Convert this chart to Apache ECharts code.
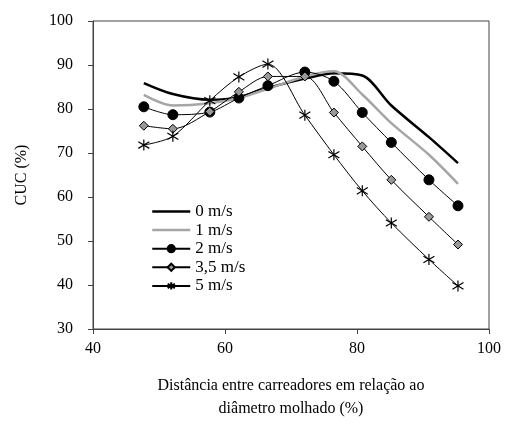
<!DOCTYPE html>
<html lang="pt">
<head>
    <meta charset="UTF-8">
    <title>CUC</title>
    <script src="https://cdn.jsdelivr.net/npm/echarts@6/dist/echarts.min.js"></script>
</head>
<body style="margin:0">
    <div id="main" style="width: 506px; height: 423px;"></div>
    <script>
        // distancia entre carreadores (% do diametro molhado)
        var xs = [47.7, 52.1, 57.7, 62.1, 66.5, 72.1, 76.5, 80.8, 85.2, 90.9, 95.3];
        var names = ['0 m/s', '1 m/s', '2 m/s', '3,5 m/s', '5 m/s'];
        var v0 = [85.9, 83.4, 82.1, 82.7, 84.8, 86.9, 88.1, 87.6, 80.8, 73.6, 67.7];
        var v1 = [83.2, 80.8, 81.3, 82.5, 84.6, 87.4, 88.6, 83.3, 76.8, 69.6, 63.0];
        var v2 = [80.5, 78.7, 79.3, 82.5, 85.3, 88.4, 86.3, 79.2, 72.4, 63.9, 58.0];
        var v35 = [76.2, 75.5, 79.4, 83.9, 87.4, 87.4, 79.2, 71.5, 63.9, 55.5, 49.2];
        var v5 = [71.8, 73.8, 81.9, 87.3, 90.2, 78.6, 69.6, 61.4, 54.1, 45.8, 39.8];

        function pairs(v) {
            return xs.map(function (x, i) { return [x, v[i]]; });
        }

        var font = 'Liberation Serif';
        var star = 'path://M0,-5L0,5M-4.5,-3L4.5,3M-4.5,3L4.5,-3';

        var chart = echarts.init(document.getElementById('main'));
        chart.setOption({
            animation: false,
            textStyle: { fontFamily: font, color: '#000' },
            grid: {
                left: 93, right: 17, top: 21, bottom: 94, outerBoundsMode: 'none',
                show: true, borderColor: '#444', borderWidth: 1
            },
            legend: {
                orient: 'vertical', left: 146, top: 198,
                itemWidth: 38, itemHeight: 9, itemGap: 1.6,
                textStyle: { fontFamily: font, fontSize: 17, color: '#000' },
                data: [
                    { name: names[0], itemStyle: { opacity: 0 }, lineStyle: { width: 2.5, color: '#000' } },
                    { name: names[1], itemStyle: { opacity: 0 }, lineStyle: { width: 2.5, color: '#a6a6a6' } },
                    names[2],
                    names[3],
                    names[4]
                ]
            },
            xAxis: {
                type: 'value', min: 40, max: 100, interval: 20,
                axisLine: { lineStyle: { color: '#444' } },
                axisTick: { length: 5, lineStyle: { color: '#444' } },
                splitLine: { show: false },
                axisLabel: { fontFamily: font, fontSize: 16, color: '#000', margin: 12 },
                name: 'Distância entre carreadores em relação ao\ndiâmetro molhado (%)',
                nameLocation: 'middle', nameGap: 45,
                nameTextStyle: { fontFamily: font, fontSize: 16, color: '#000', lineHeight: 23 }
            },
            yAxis: {
                type: 'value', min: 30, max: 100, interval: 10,
                axisLine: { show: true, lineStyle: { color: '#444' } },
                axisTick: { show: true, length: 5, lineStyle: { color: '#444' } },
                splitLine: { show: false },
                axisLabel: { fontFamily: font, fontSize: 16, color: '#000', margin: 20 },
                name: 'CUC (%)', nameLocation: 'middle', nameGap: 63,
                nameTextStyle: { fontFamily: font, fontSize: 16, color: '#000' }
            },
            series: [
                {
                    name: names[0], type: 'line', smooth: 0.3, showSymbol: false, symbol: 'none',
                    lineStyle: { color: '#000', width: 2.5 }, itemStyle: { color: '#000' },
                    data: pairs(v0)
                },
                {
                    name: names[1], type: 'line', smooth: 0.3, showSymbol: false, symbol: 'none',
                    lineStyle: { color: '#a6a6a6', width: 2.5 }, itemStyle: { color: '#a6a6a6' },
                    data: pairs(v1)
                },
                {
                    name: names[2], type: 'line', smooth: 0.3, symbol: 'circle', symbolSize: 10,
                    lineStyle: { color: '#000', width: 1 },
                    itemStyle: { color: '#000', borderColor: '#000', borderWidth: 1 },
                    data: pairs(v2)
                },
                {
                    name: names[3], type: 'line', smooth: 0.3, symbol: 'diamond', symbolSize: 9,
                    lineStyle: { color: '#000', width: 1 },
                    itemStyle: { color: '#999', borderColor: '#000', borderWidth: 1 },
                    data: pairs(v35)
                },
                {
                    name: names[4], type: 'line', smooth: 0.3, symbol: star, symbolSize: 11,
                    lineStyle: { color: '#000', width: 1 },
                    itemStyle: { color: 'none', borderColor: '#000', borderWidth: 1.2 },
                    data: pairs(v5)
                }
            ]
        });
    </script>
</body>
</html>
